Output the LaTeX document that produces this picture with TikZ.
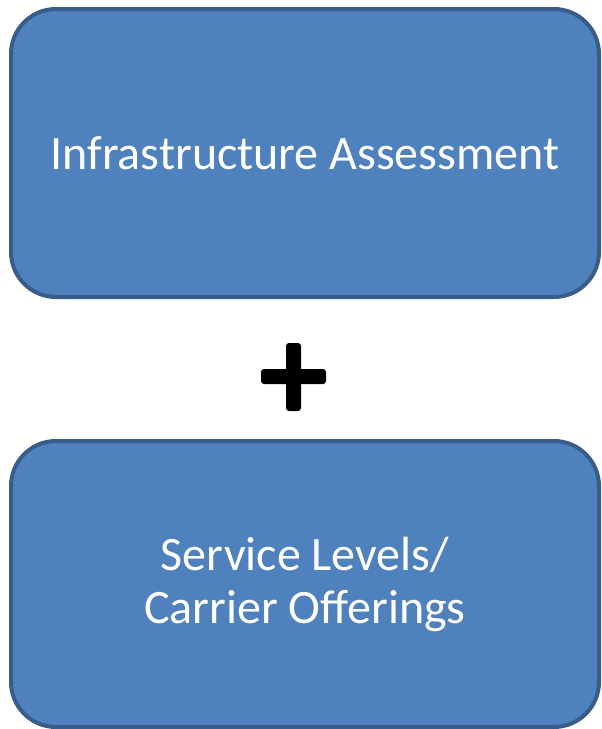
\documentclass[tikz,border=0pt]{standalone}
\usepackage{fontspec}
\setmainfont{Carlito}
\usetikzlibrary{positioning}
\definecolor{OfficeBlue}{HTML}{4F81BD}
\definecolor{OfficeDarkBlue}{HTML}{385D8A}

\begin{document}
\begin{tikzpicture}[x=1pt,y=-1pt,
  stepbox/.style={draw=OfficeDarkBlue, fill=OfficeBlue, line width=4pt, rounded corners=45pt,
    minimum width=588pt, text=white, align=center, font=\fontsize{48}{53}\selectfont}]

\useasboundingbox (0,0) rectangle (602,729);

% Boxes
\node[stepbox, minimum height=288pt] (infra) at (305,153) {Infrastructure Assessment};
\node[stepbox, minimum height=286pt] (service) at (305,584) {Service Levels/\\Carrier Offerings};

% Plus
\fill[black, rounded corners=3pt] (261,369) rectangle (326,384);
\fill[black, rounded corners=3pt] (286,343) rectangle (301,411);

\end{tikzpicture}
\end{document}
